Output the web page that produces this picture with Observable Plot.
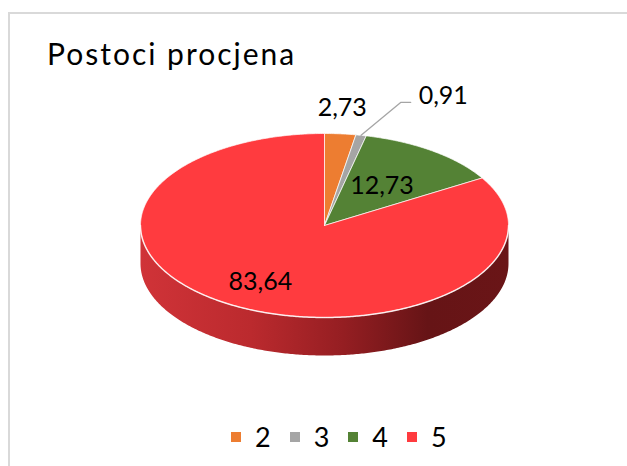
<!DOCTYPE html>
<html><head><meta charset="utf-8">
<script src="https://cdn.jsdelivr.net/npm/d3@7"></script>
<script src="https://cdn.jsdelivr.net/npm/@observablehq/plot@0.6"></script>
<style>
body{margin:0;background:#fff;font-family:Lato,"Open Sans",sans-serif;}
#wrap{position:relative;width:627px;height:466px;overflow:hidden;background:#fff;}
#frame{position:absolute;left:8px;top:12px;width:660px;height:500px;border:2px solid #d9d9d9;box-sizing:border-box;}
#chart{position:absolute;left:0;top:0;}
#title{position:absolute;left:47px;top:38px;font-size:30px;letter-spacing:2px;line-height:1;color:#000;white-space:nowrap;}
#legend{position:absolute;left:231px;top:423px;display:flex;align-items:center;font-size:27px;line-height:27px;color:#000;}
#legend .item{display:flex;align-items:center;margin-right:19px;}
#legend .sw{width:10px;height:10px;margin-right:14px;}
</style>
</head><body>
<div id="wrap">
  <div id="frame"></div>
  <div id="chart"></div>
  <div id="title"></div>
  <div id="legend"></div>
</div>
<script>
const title = "Postoci procjena";
const categories = ["2", "3", "4", "5"];
const values = [2.73, 0.91, 12.73, 83.64];
const labels = ["2,73", "0,91", "12,73", "83,64"];
const colors = ["#ED7D31", "#A5A5A5", "#548235", "#FF3B3F"];

// layout
const W = 627, H = 466;
const cx = 324, cy = 225, rx = 184, ry = 92, depthPx = 38;
const depth = depthPx / ry;

const pie = d3.pie().sort(null).value(d => d)(values);
const pt = (a, r = 1) => ({x: r * Math.sin(a), y: r * Math.cos(a)});
const arcPts = (a0, a1, r = 1, dy = 0) => {
  const n = Math.max(2, Math.ceil(Math.abs(a1 - a0) / 0.01));
  return d3.range(n + 1).map(i => {
    const p = pt(a0 + (a1 - a0) * i / n, r);
    return {x: p.x, y: p.y + dy};
  });
};

const marks = [];
// sides (front half of cylinder)
pie.forEach((s, i) => {
  const lo = Math.max(s.startAngle, Math.PI / 2), hi = Math.min(s.endAngle, 3 * Math.PI / 2);
  if (lo < hi) {
    const poly = [...arcPts(lo, hi), ...arcPts(hi, lo, 1, -depth)];
    marks.push(Plot.line(poly, {x: "x", y: "y", fill: i === 3 ? "url(#sideGrad)" : colors[i], stroke: "none"}));
  }
});
// top faces
pie.forEach((s, i) => {
  const poly = [{x: 0, y: 0}, ...arcPts(s.startAngle, s.endAngle), {x: 0, y: 0}];
  marks.push(Plot.line(poly, {x: "x", y: "y", fill: colors[i], stroke: "#ffffff", strokeWidth: 1, strokeOpacity: 0.7, strokeLinejoin: "round"}));
});
// front edge highlight
marks.push(Plot.line(arcPts(Math.PI / 2, 3 * Math.PI / 2), {x: "x", y: "y", stroke: "#ffffff", strokeWidth: 1.5, strokeOpacity: 0.75}));

// labels
const inside = [], outside = [], leader = [];
pie.forEach((s, i) => {
  const mid = (s.startAngle + s.endAngle) / 2;
  const frac = values[i] / d3.sum(values);
  if (values[i] >= 5) {
    const p = pt(mid, 0.5 + 0.25 * frac);
    inside.push({...p, label: labels[i]});
  } else if (values[i] >= 2) {
    const p = pt(mid, 1);
    outside.push({...p, label: labels[i]});
  } else {
    const p0 = pt(mid, 1), p1 = pt(mid + 0.1, 1.4);
    const p2 = {x: p1.x + 10 / rx, y: p1.y};
    leader.push(p0, p1, p2);
    inside.push({...p2, label: labels[i], lead: true});
  }
});
marks.push(Plot.line(leader, {x: "x", y: "y", stroke: "#A5A5A5", strokeWidth: 1.3}));
marks.push(Plot.text(inside.filter(d => !d.lead), {x: "x", y: "y", text: "label", fontSize: 25, fill: "#000"}));
marks.push(Plot.text(inside.filter(d => d.lead), {x: "x", y: "y", text: "label", fontSize: 25, fill: "#000", textAnchor: "start", dx: 8, dy: -6}));
marks.push(Plot.text(outside, {x: "x", y: "y", text: "label", fontSize: 25, fill: "#000", dy: -26, dx: 2}));

const svg = Plot.plot({
  width: W, height: H,
  marginLeft: 0, marginRight: 0, marginTop: 0, marginBottom: 0,
  style: {background: "transparent", fontFamily: "Lato, 'Open Sans', sans-serif", overflow: "visible"},
  x: {domain: [-1, 1], range: [cx - rx, cx + rx], axis: null},
  y: {domain: [-1, 1], range: [cy + ry, cy - ry], axis: null},
  marks
});
const defs = d3.select(svg).insert("defs", ":first-child");
const g = defs.append("linearGradient").attr("id", "sideGrad")
  .attr("gradientUnits", "userSpaceOnUse")
  .attr("x1", cx - rx).attr("x2", cx + rx).attr("y1", 0).attr("y2", 0);
[[0, "#D03338"], [0.3, "#BB2A2E"], [0.55, "#951E22"], [0.78, "#661416"], [1, "#6A1517"]]
  .forEach(([o, c]) => g.append("stop").attr("offset", o).attr("stop-color", c));
document.getElementById("chart").appendChild(svg);

document.getElementById("title").textContent = title;
const leg = document.getElementById("legend");
categories.forEach((c, i) => {
  const it = document.createElement("div"); it.className = "item";
  const sw = document.createElement("div"); sw.className = "sw"; sw.style.background = colors[i];
  const tx = document.createElement("span"); tx.textContent = c;
  it.appendChild(sw); it.appendChild(tx); leg.appendChild(it);
});
</script>
</body></html>
